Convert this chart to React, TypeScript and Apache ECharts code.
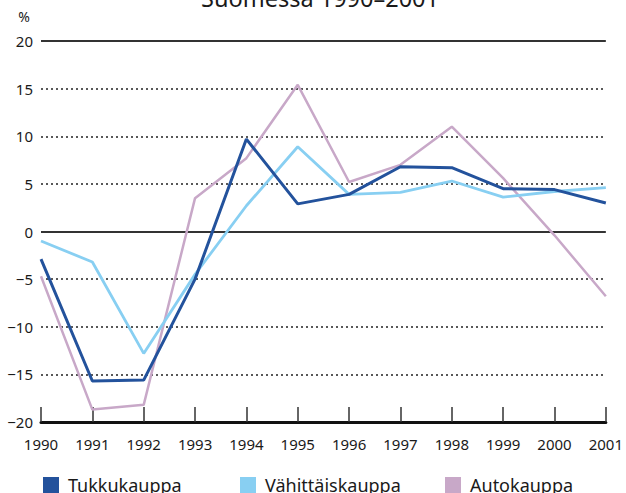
import React, { useEffect, useRef } from "react";
import * as echarts from "echarts";

const years = ["1990","1991","1992","1993","1994","1995","1996","1997","1998","1999","2000","2001"];
const tukkukauppa = [-2.9, -15.7, -15.6, -5.0, 9.7, 2.9, 3.9, 6.8, 6.7, 4.5, 4.4, 3.0];
const vahittaiskauppa = [-1.0, -3.2, -12.8, -4.5, 2.7, 8.9, 3.9, 4.1, 5.3, 3.6, 4.2, 4.6];
const autokauppa = [-4.7, -18.7, -18.2, 3.5, 7.7, 15.4, 5.2, 7.0, 11.0, 5.6, -0.4, -6.8];
const solidLevels = [20, 0];

const FONT = "'Noto Sans', 'Open Sans', sans-serif";

export default function App() {
  const ref = useRef<HTMLDivElement>(null);
  useEffect(() => {
    if (!ref.current) return;
    const chart = echarts.init(ref.current, null, { renderer: "svg" });
    const legendBase = {
      top: 471,
      icon: "rect",
      itemWidth: 16,
      itemHeight: 16,
      textStyle: { fontFamily: FONT, fontSize: 18, color: "#1a1a1a", padding: [0, 0, 0, 4] },
    };
    chart.setOption({
      animation: false,
      textStyle: { fontFamily: FONT },
      grid: { left: 41, right: 13, top: 41, bottom: 71, containLabel: false },
      graphic: [
        {
          type: "text",
          style: {
            text: "Suomessa 1990–2001",
            x: 320,
            y: -2,
            align: "center",
            verticalAlign: "middle",
            font: `23.5px ${FONT}`,
            fill: "#1a1a1a",
          },
        },
        {
          type: "text",
          style: {
            text: "%",
            x: 24,
            y: 16,
            align: "center",
            verticalAlign: "middle",
            font: `14px ${FONT}`,
            fill: "#1a1a1a",
          },
        },
      ],
      legend: [
        { ...legendBase, left: 38, data: ["Tukkukauppa"] },
        { ...legendBase, left: 235, data: ["Vähittäiskauppa"] },
        { ...legendBase, left: 440, data: ["Autokauppa"] },
      ],
      xAxis: {
        type: "category",
        data: years,
        boundaryGap: false,
        axisLine: { onZero: false, lineStyle: { color: "#111", width: 3 } },
        axisTick: { inside: true, length: 15, lineStyle: { color: "#333", width: 1.5 } },
        axisLabel: { margin: 14, fontSize: 15, color: "#1a1a1a", fontFamily: FONT, showMaxLabel: true, showMinLabel: true },
        splitLine: { show: false },
      },
      yAxis: {
        type: "value",
        min: -20,
        max: 20,
        interval: 5,
        axisLine: { show: false },
        axisTick: { show: false },
        axisLabel: {
          margin: 8,
          fontSize: 15,
          color: "#1a1a1a",
          fontFamily: FONT,
          formatter: (v: number) => (v < 0 ? "\u2212" + Math.abs(v) : String(v)),
        },
        splitLine: { show: true, lineStyle: { color: "#222", width: 1.5, type: [2, 3] } },
      },
      series: [
        {
          name: "Autokauppa",
          type: "line",
          data: autokauppa,
          symbol: "none",
          lineStyle: { color: "#c8a8c8", width: 2.5 },
          itemStyle: { color: "#c8a8c8" },
          z: 3,
          markLine: {
            silent: true,
            symbol: "none",
            label: { show: false },
            lineStyle: { color: "#333", width: 1.8, type: "solid" },
            data: solidLevels.map((v) => ({ yAxis: v })),
            z: 1,
          },
        },
        {
          name: "Vähittäiskauppa",
          type: "line",
          data: vahittaiskauppa,
          symbol: "none",
          lineStyle: { color: "#88cff2", width: 2.8 },
          itemStyle: { color: "#88cff2" },
          z: 4,
        },
        {
          name: "Tukkukauppa",
          type: "line",
          data: tukkukauppa,
          symbol: "none",
          lineStyle: { color: "#23529c", width: 3 },
          itemStyle: { color: "#23529c" },
          z: 5,
        },
      ],
    });
    return () => chart.dispose();
  }, []);
  return <div ref={ref} style={{ width: 626, height: 493, position: "absolute", left: 0, top: 0 }} />;
}
